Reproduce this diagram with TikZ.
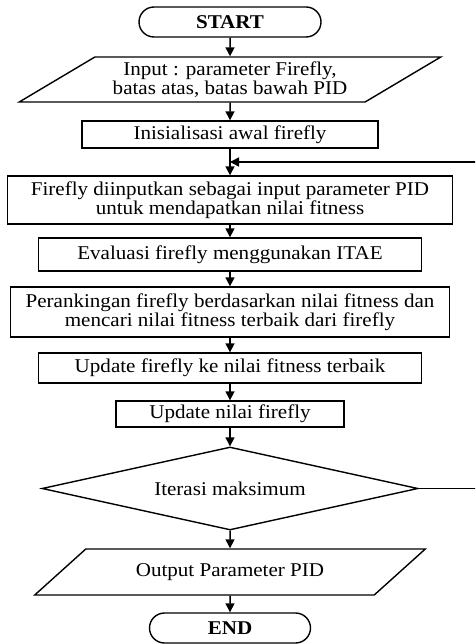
\documentclass[tikz,border=0pt]{standalone}
\usepackage{fontspec}
\setmainfont{Liberation Serif}[FakeStretch=1.08]
\usetikzlibrary{positioning, arrows.meta, shapes.geometric}
\tikzset{
  flow/.style = {line width=1.5pt, -{Triangle[length=9pt, width=9pt]}},
  boxtext/.style = {font=\fontsize{19.5}{17}\selectfont, align=center, line width=1.4pt, inner sep=1pt},
  process/.style n args={2}{boxtext, draw, rectangle, minimum width=#1, minimum height=#2},
  terminal/.style = {boxtext, draw, rounded corners=15pt, minimum width=#1, minimum height=30pt, font=\fontsize{19.5}{17}\selectfont\bfseries},
  inout/.style n args={2}{boxtext, draw, trapezium, trapezium stretches=true, trapezium left angle=29.5, trapezium right angle=150.5, minimum width=#1, minimum height=#2},
  decision/.style n args={2}{boxtext, draw, diamond, aspect=4.5, inner sep=0pt, minimum width=#1, minimum height=#2},
}

\begin{document}
\begin{tikzpicture}[x=1pt, y=-1pt]
  \useasboundingbox (0,0) rectangle (475,644);
  \clip (0,0) rectangle (475,644);

  \node[terminal=182pt]            (start)  at (230,22)    {START};
  \node[inout={423pt}{45pt}]       (input)  at (230,79.5)  {Input : parameter Firefly,\\batas atas, batas bawah PID};
  \node[process={296pt}{27pt}]     (init)   at (230,134.5) {Inisialisasi awal firefly};
  \node[process={445pt}{48pt}]     (fit)    at (230,200)   {Firefly diinputkan sebagai input parameter PID\\untuk mendapatkan nilai fitness};
  \node[process={383pt}{33pt}]     (eval)   at (230,254.5) {Evaluasi firefly menggunakan ITAE};
  \node[process={439pt}{50pt}]     (rank)   at (230,312)   {Perankingan firefly berdasarkan nilai fitness dan\\mencari nilai fitness terbaik dari firefly};
  \node[process={383pt}{30pt}]     (upbest) at (230,368)   {Update firefly ke nilai fitness terbaik};
  \node[process={228pt}{26pt}]     (upval)  at (230,414)   {Update nilai firefly};
  \node[decision={376pt}{83pt}]    (iter)   at (230,488.5) {Iterasi maksimum};
  \node[inout={391pt}{46pt}]       (output) at (230,572)   {Output Parameter PID};
  \node[terminal=161pt]            (end)    at (230,628)   {END};

  \coordinate (merge) at (230,162);

  \draw[flow] (start) -- (input);
  \draw[flow] (input) -- (init);
  \draw[flow] (init) -- (fit);
  \draw[flow] (fit) -- (eval);
  \draw[flow] (eval) -- (rank);
  \draw[flow] (rank) -- (upbest);
  \draw[flow] (upbest) -- (upval);
  \draw[flow] (upval) -- (iter);
  \draw[flow] (iter) -- (output);
  \draw[flow] (output) -- (end);
  \draw[flow] (iter.east) -- ++(75,0) |- (merge);
\end{tikzpicture}
\end{document}
